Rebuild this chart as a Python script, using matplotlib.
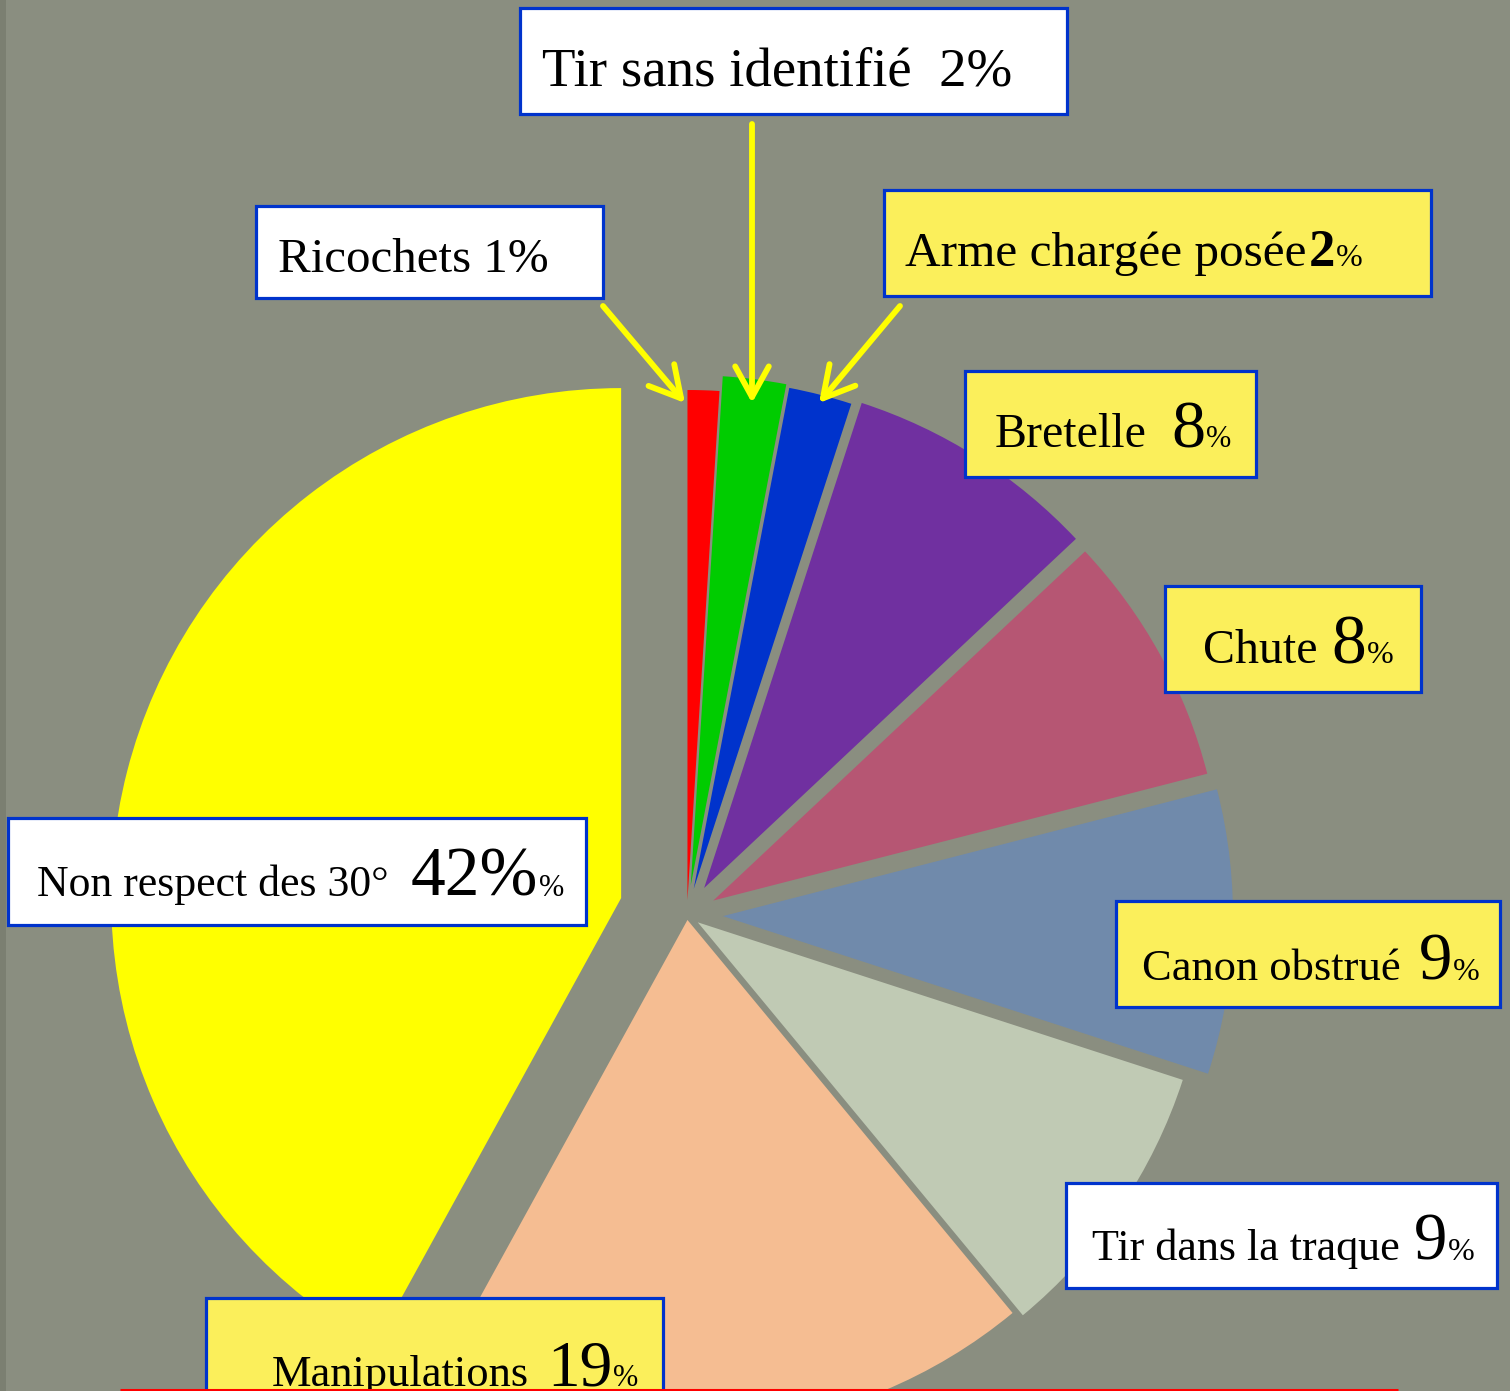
import matplotlib
matplotlib.use("Agg")
import matplotlib.pyplot as plt
from matplotlib.patches import Rectangle

# ---------------- data ----------------
categories = ["Ricochets", "Tir sans identifié", "Arme chargée posée", "Bretelle",
              "Chute", "Canon obstrué", "Tir dans la traque", "Manipulations",
              "Non respect des 30°"]
values = [1, 2, 2, 8, 8, 9, 9, 19, 42]

# ---------------- style ----------------
slice_colors = ["#ff0000", "#00cc00", "#0033cc", "#7030a0", "#b65673",
                "#708aab", "#c0cab4", "#f5bd92", "#ffff00"]
explode_px = [15, 30, 27, 32, 30, 36, 13, 5, 68]

W, H = 1510, 1391
BG = "#8a8e80"
YEL = "#fbef5b"
BORDER = "#0033cc"
ARROW = "#ffff00"
FONT = ["Liberation Serif", "DejaVu Serif"]

fig = plt.figure(figsize=(W / 100, H / 100), dpi=100, facecolor=BG)
ax = fig.add_axes([0, 0, 1, 1])
ax.set_facecolor(BG)

ax.pie(values, colors=slice_colors, explode=explode_px, radius=510,
       center=(687, 915), startangle=-90, counterclock=True,
       wedgeprops=dict(linewidth=0), frame=False)
ax.set_xlim(0, W)
ax.set_ylim(H, 0)
ax.set_aspect("auto")
ax.set_axis_off()

# darker left edge of the textured background
ax.add_patch(Rectangle((0, 0), 6, H, facecolor="#7b7f71", edgecolor="none", zorder=0.5))

# label boxes: box (x0, y0, x1, y1), face, text x, baseline, sizes
layout = {
    "Ricochets": dict(box=(256, 206, 603, 298), face="white", x=278, y=272,
                      base=35.3, kind="plain", sep=" "),
    "Tir sans identifié": dict(box=(520, 8, 1067, 114), face="white", x=542, y=86,
                               base=39.5, kind="plain", sep="  "),
    "Arme chargée posée": dict(box=(884, 190, 1431, 296), face=YEL, x=905, y=266,
                               base=35.5, big=38, bold=True, small=23, gap=2,
                               kind="big"),
    "Bretelle": dict(box=(965, 371, 1256, 477), face=YEL, x=995, y=447,
                     base=34.5, big=49, small=22, gap=24, kind="big"),
    "Chute": dict(box=(1165, 586, 1421, 692), face=YEL, x=1203, y=663,
                  base=34.5, big=50, small=23, gap=14, kind="big"),
    "Canon obstrué": dict(box=(1116, 901, 1500, 1007), face=YEL, x=1142, y=980,
                          base=32, big=48, small=23, gap=18, kind="big"),
    "Tir dans la traque": dict(box=(1066, 1183, 1497, 1288), face="white", x=1092,
                               y=1260, base=31.8, big=48, small=23, gap=14,
                               kind="big"),
    "Manipulations": dict(box=(206, 1298, 663, 1430), face=YEL, x=272, y=1386,
                          base=32, big=47, small=22, gap=18, kind="big"),
    "Non respect des 30°": dict(box=(8, 818, 586, 925), face="white", x=37, y=896,
                                base=31.5, big=50, small=22, gap=22, kind="bigpct"),
}

renderer = fig.canvas.get_renderer()


def draw_runs(x, y, parts):
    for text, size, weight, gap in parts:
        x += gap
        t = ax.text(x, y, text, fontsize=size, fontweight=weight, family=FONT,
                    ha="left", va="baseline", color="black", zorder=6)
        x += t.get_window_extent(renderer).width


for cat, v in zip(categories, values):
    L = layout[cat]
    x0, y0, x1, y1 = L["box"]
    ax.add_patch(Rectangle((x0, y0), x1 - x0, y1 - y0, facecolor=L["face"],
                           edgecolor=BORDER, linewidth=2.3, zorder=5,
                           joinstyle="miter"))
    if L["kind"] == "plain":
        parts = [(f"{cat}{L['sep']}{v}%", L["base"], "normal", 0)]
    elif L["kind"] == "big":
        parts = [(cat, L["base"], "normal", 0),
                 (str(v), L["big"], "bold" if L.get("bold") else "normal", L["gap"]),
                 ("%", L["small"], "normal", 1)]
    else:
        parts = [(cat, L["base"], "normal", 0),
                 (f"{v}%", L["big"], "normal", L["gap"]),
                 ("%", L["small"], "normal", 1)]
    draw_runs(L["x"], L["y"], parts)

# yellow arrows towards the three small slices
arrows = [((603, 306), (685, 403)),
          ((752, 124), (752, 403)),
          ((900, 306), (819, 403))]
for start, tip in arrows:
    ax.annotate("", xy=tip, xytext=start, zorder=7,
                arrowprops=dict(arrowstyle="->,head_length=1.0,head_width=0.55",
                                color=ARROW, lw=4.2, mutation_scale=22,
                                shrinkA=0, shrinkB=0))

# thin red rule at the very bottom
ax.plot([120, 1398], [1389.5, 1389.5], color="#ff0000", lw=2.2, zorder=8,
        solid_capstyle="butt")

fig.savefig("out.png", dpi=100, facecolor=BG)
